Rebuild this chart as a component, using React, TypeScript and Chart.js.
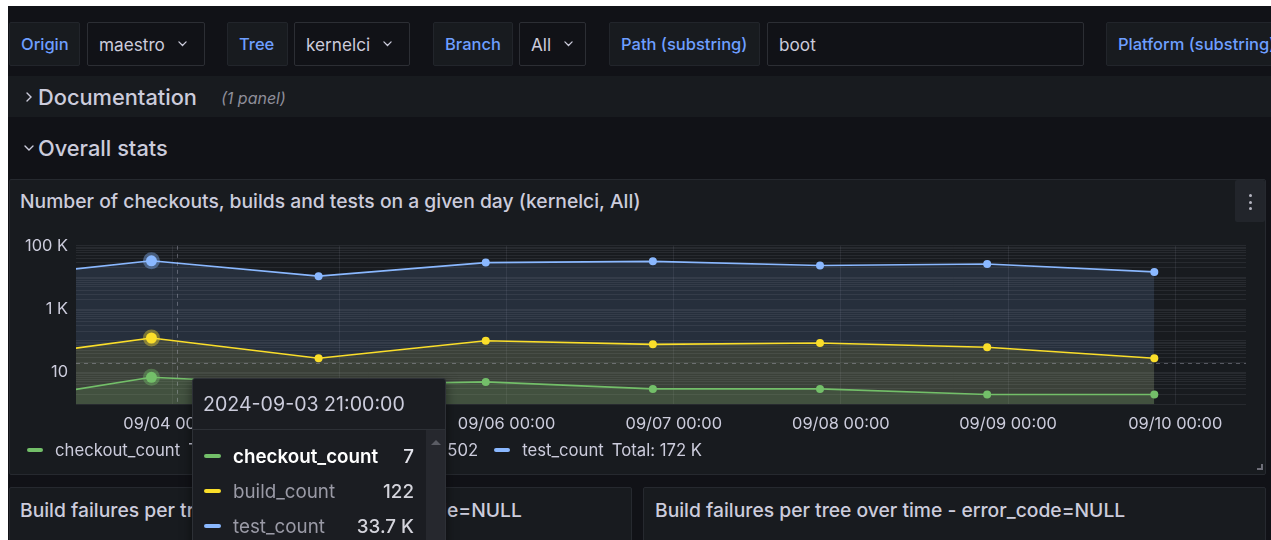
import React, { useEffect, useRef } from 'react';
import { Chart, registerables } from 'chart.js';

Chart.register(...registerables);

// ---- data ----
const timeLabels = [
  '2024-09-02 21:00:00',
  '2024-09-03 21:00:00',
  '2024-09-04 21:00:00',
  '2024-09-05 21:00:00',
  '2024-09-06 21:00:00',
  '2024-09-07 21:00:00',
  '2024-09-08 21:00:00',
  '2024-09-09 21:00:00',
];
const checkoutCount = [1, 7, 4, 5, 3, 3, 2, 2];
const buildCount = [24, 122, 28, 100, 77, 85, 62, 28];
const testCount = [9100, 33700, 11000, 29500, 32300, 23800, 26700, 15000];

const seriesNames = ['checkout_count', 'build_count', 'test_count'];
const seriesColors = ['#73bf69', '#fade2a', '#8ab8ff'];
const seriesFills = ['rgba(115,191,105,0.13)', 'rgba(250,222,42,0.10)', 'rgba(138,184,255,0.13)'];

const xTickLabels = ['09/04 00:00', '09/05 00:00', '09/06 00:00', '09/07 00:00', '09/08 00:00', '09/09 00:00', '09/10 00:00'];
const yTickValues = [10, 1000, 100000];
const yTickLabels = ['10', '1 K', '100 K'];

const rangeFrom = '2024-09-03 10:10:00';
const rangeTo = '2024-09-10 10:10:00';
const hoverTime = '2024-09-03 21:00:00';
const cursorTime = '2024-09-04 00:40:00';
const cursorValue = 19.5;

const panelTitle = 'Number of checkouts, builds and tests on a given day (kernelci, All)';

// ---- helpers ----
const toMs = (s: string) => {
  const [d, t] = s.split(' ');
  const [Y, M, D] = d.split('-').map(Number);
  const [h, m, sec] = t.split(':').map(Number);
  return Date.UTC(Y, M - 1, D, h, m, sec || 0);
};
const tickToMs = (lbl: string) => {
  const [md, hm] = lbl.split(' ');
  const [M, D] = md.split('/').map(Number);
  const [h, m] = hm.split(':').map(Number);
  return Date.UTC(2024, M - 1, D, h, m);
};
const fmt = (v: number) => {
  if (v >= 1000) {
    const k = v / 1000;
    return (k >= 100 ? Math.round(k).toString() : k.toFixed(1).replace(/\.0$/, '')) + ' K';
  }
  return String(v);
};

const times = timeLabels.map(toMs);
const xMin = toMs(rangeFrom);
const xMax = toMs(rangeTo);
const hoverIndex = timeLabels.indexOf(hoverTime);
const seriesValues = [checkoutCount, buildCount, testCount];
const totals = seriesValues.map((arr) => arr.reduce((s, v, i) => (times[i] >= xMin && times[i] <= xMax ? s + v : s), 0));

const FONT = 'Inter, "Noto Sans", "DejaVu Sans", sans-serif';
const TEXT = '#ccccdc';

const hexA = (hex: string, a: number) => {
  const n = parseInt(hex.slice(1), 16);
  return `rgba(${(n >> 16) & 255},${(n >> 8) & 255},${n & 255},${a})`;
};

const overlayPlugin = {
  id: 'overlay',
  afterDatasetsDraw(chart: any) {
    const { ctx, chartArea: a, scales } = chart;
    const px = scales.x.getPixelForValue(toMs(cursorTime));
    const py = scales.y.getPixelForValue(cursorValue);
    ctx.save();
    ctx.setLineDash([4, 4]);
    ctx.strokeStyle = 'rgba(204,204,220,0.35)';
    ctx.lineWidth = 1;
    ctx.beginPath();
    ctx.moveTo(Math.round(px) + 0.5, a.top);
    ctx.lineTo(Math.round(px) + 0.5, a.bottom);
    ctx.moveTo(a.left, Math.round(py) + 0.5);
    ctx.lineTo(a.right, Math.round(py) + 0.5);
    ctx.stroke();
    ctx.setLineDash([]);
    chart.data.datasets.forEach((ds: any, di: number) => {
      const pt = chart.getDatasetMeta(di).data[hoverIndex];
      if (!pt) return;
      ctx.beginPath();
      ctx.arc(pt.x, pt.y, 8.5, 0, Math.PI * 2);
      ctx.fillStyle = hexA(seriesColors[di], 0.4);
      ctx.fill();
      ctx.beginPath();
      ctx.arc(pt.x, pt.y, 5.5, 0, Math.PI * 2);
      ctx.fillStyle = seriesColors[di];
      ctx.fill();
    });
    ctx.restore();
  },
};

function TimeChart() {
  const ref = useRef<HTMLCanvasElement | null>(null);
  useEffect(() => {
    if (!ref.current) return;
    const chart = new Chart(ref.current, {
      type: 'line',
      data: {
        datasets: seriesValues.map((vals, si) => ({
          label: seriesNames[si],
          data: vals.map((v, i) => ({ x: times[i], y: v })),
          borderColor: seriesColors[si],
          backgroundColor: seriesFills[si],
          pointBackgroundColor: seriesColors[si],
          pointBorderWidth: 0,
          pointRadius: 4,
          borderWidth: 1.6,
          fill: 'start',
          tension: 0,
        })),
      },
      options: {
        animation: false,
        responsive: false,
        maintainAspectRatio: false,
        events: [],
        layout: { padding: { top: 3, right: 10, left: 0, bottom: 0 } },
        plugins: { legend: { display: false }, tooltip: { enabled: false } },
        scales: {
          x: {
            type: 'linear',
            min: xMin,
            max: xMax,
            afterBuildTicks: (s: any) => {
              s.ticks = xTickLabels.map((l) => ({ value: tickToMs(l) }));
            },
            afterFit: (s: any) => {
              s.height = 36;
            },
            ticks: {
              callback: (v: any) => {
                const i = xTickLabels.findIndex((l) => tickToMs(l) === v);
                return i >= 0 ? xTickLabels[i] : '';
              },
              autoSkip: false,
              maxRotation: 0,
              color: TEXT,
              padding: 10,
              font: { family: FONT, size: 16.4 },
            },
            grid: { color: 'rgba(204,204,220,0.09)', drawTicks: false },
            border: { display: false },
          },
          y: {
            type: 'logarithmic',
            min: 1,
            max: 100000,
            afterBuildTicks: (s: any) => {
              const t: any[] = [];
              for (let e = 0; e < 5; e++) for (let m = 1; m <= 9; m++) t.push({ value: m * Math.pow(10, e) });
              t.push({ value: 100000 });
              s.ticks = t;
            },
            afterFit: (s: any) => {
              s.width = 60;
            },
            ticks: {
              callback: (v: any) => {
                const i = yTickValues.findIndex((tv) => Math.abs(tv - v) < 1e-6 * tv);
                return i >= 0 ? yTickLabels[i] : '';
              },
              autoSkip: false,
              color: TEXT,
              padding: 8,
              font: { family: FONT, size: 16.4 },
            },
            grid: {
              color: 'rgba(204,204,220,0.085)',
              drawTicks: false,
            },
            border: { display: false },
          },
        },
      },
      plugins: [overlayPlugin],
    } as any);
    return () => chart.destroy();
  }, []);
  return (
    <canvas
      ref={ref}
      width={1240}
      height={212}
      style={{ position: 'absolute', left: 16, top: 228, width: 1240, height: 212 }}
    />
  );
}

const Chevron = ({ dir = 'down', color = TEXT, size = 9 }: { dir?: string; color?: string; size?: number }) =>
  dir === 'down' ? (
    <svg width={size} height={size * 0.6} viewBox="0 0 10 6" style={{ display: 'inline-block' }}>
      <path d="M1 1 L5 5 L9 1" stroke={color} strokeWidth={1.4} fill="none" strokeLinecap="round" />
    </svg>
  ) : (
    <svg width={size * 0.6} height={size} viewBox="0 0 6 10" style={{ display: 'inline-block' }}>
      <path d="M1 1 L5 5 L1 9" stroke={color} strokeWidth={1.4} fill="none" strokeLinecap="round" />
    </svg>
  );

const abs = (l: number, t: number, w: number, h: number, extra: React.CSSProperties = {}): React.CSSProperties => ({
  position: 'absolute',
  left: l,
  top: t,
  width: w,
  height: h,
  boxSizing: 'border-box',
  ...extra,
});

function VarLabel({ l, w, text }: { l: number; w: number; text: string }) {
  return (
    <div
      style={abs(l, 22, w, 44, {
        background: '#181b1f',
        border: '1px solid #22252b',
        borderRadius: 2,
        color: '#6e9fff',
        fontSize: 16.5,
        fontWeight: 500,
        display: 'flex',
        alignItems: 'center',
        paddingLeft: 11,
        whiteSpace: 'nowrap',
        overflow: 'hidden',
      })}
    >
      {text}
    </div>
  );
}

function VarValue({ l, w, text, chevron = true }: { l: number; w: number; text: string; chevron?: boolean }) {
  return (
    <div
      style={abs(l, 22, w, 44, {
        background: '#111217',
        border: '1px solid #2c2e34',
        borderRadius: 2,
        color: TEXT,
        fontSize: 17.2,
        display: 'flex',
        alignItems: 'center',
        paddingLeft: 11,
        gap: 13,
        whiteSpace: 'nowrap',
      })}
    >
      <span>{text}</span>
      {chevron && <Chevron />}
    </div>
  );
}

function LegendItem({ color, name, total }: { color: string; name: string; total: string }) {
  return (
    <div style={{ display: 'flex', alignItems: 'center', marginRight: 16 }}>
      <span style={{ width: 16, height: 4, borderRadius: 2, background: color, marginRight: 12 }} />
      <span style={{ marginRight: 8 }}>{name}</span>
      <span>Total: {total}</span>
    </div>
  );
}

export default function App() {
  return (
    <div
      style={{
        position: 'fixed',
        left: 0,
        top: 0,
        width: 1271,
        height: 540,
        overflow: 'hidden',
        background: '#ffffff',
        fontFamily: FONT,
        color: TEXT,
      }}
    >
      <div style={abs(8, 6, 1263, 534, { background: '#111217' })} />

      {/* variables row */}
      <VarLabel l={9} w={71} text="Origin" />
      <VarValue l={87} w={118} text="maestro" />
      <VarLabel l={227} w={61} text="Tree" />
      <VarValue l={294} w={116} text="kernelci" />
      <VarLabel l={433} w={80} text="Branch" />
      <VarValue l={519} w={67} text="All" />
      <VarLabel l={609} w={151} text="Path (substring)" />
      <VarValue l={767} w={317} text="boot" chevron={false} />
      <VarLabel l={1106} w={200} text="Platform (substring)" />

      {/* Documentation row */}
      <div
        style={abs(8, 76, 1263, 41, {
          background: '#181b1f',
          display: 'flex',
          alignItems: 'center',
          paddingLeft: 18,
        })}
      >
        <Chevron dir="right" size={10} />
        <span style={{ fontSize: 21.8, fontWeight: 500, marginLeft: 6 }}>Documentation</span>
        <span style={{ fontSize: 16, fontStyle: 'italic', color: '#8e8e99', marginLeft: 24, marginTop: 3 }}>(1 panel)</span>
      </div>

      {/* Overall stats row */}
      <div style={abs(8, 127, 1263, 41, { display: 'flex', alignItems: 'center', paddingLeft: 16 })}>
        <Chevron dir="down" size={10} />
        <span style={{ fontSize: 21.8, fontWeight: 500, marginLeft: 4 }}>Overall stats</span>
      </div>

      {/* main panel */}
      <div style={abs(9, 179, 1257, 296, { background: '#181b1f', border: '1px solid #26292f', borderRadius: 2 })} />
      <div style={abs(20, 189, 1100, 24, { fontSize: 19.3, fontWeight: 500, lineHeight: '24px', whiteSpace: 'nowrap' })}>
        {panelTitle}
      </div>
      <div style={abs(1235, 180, 30, 42, { background: '#22252b', borderRadius: 2 })}>
        {[15, 22, 28].map((y) => (
          <div key={y} style={abs(14, y - 1.5, 3, 3, { borderRadius: 2, background: '#b4b4c0' })} />
        ))}
      </div>

      <TimeChart />

      {/* legend */}
      <div
        style={abs(27, 438, 1200, 24, {
          display: 'flex',
          alignItems: 'center',
          fontSize: 16.7,
          whiteSpace: 'nowrap',
        })}
      >
        {seriesNames.map((n, i) => (
          <LegendItem key={n} color={seriesColors[i]} name={n} total={fmt(totals[i])} />
        ))}
      </div>

      {/* resize handle */}
      <div style={abs(1257, 464, 6, 6, { borderRight: '2px solid #6e6e78', borderBottom: '2px solid #6e6e78' })} />

      {/* lower panels */}
      <div style={abs(9, 487, 623, 80, { background: '#181b1f', border: '1px solid #26292f', borderRadius: 2 })} />
      <div style={abs(20, 498, 600, 24, { fontSize: 19.3, fontWeight: 500, lineHeight: '24px', whiteSpace: 'nowrap' })}>
        Build failures per tree over time (#) - error_code=NULL
      </div>
      <div style={abs(643, 487, 623, 80, { background: '#181b1f', border: '1px solid #26292f', borderRadius: 2 })} />
      <div style={abs(655, 498, 600, 24, { fontSize: 19.3, fontWeight: 500, lineHeight: '24px', whiteSpace: 'nowrap' })}>
        Build failures per tree over time - error_code=NULL
      </div>

      {/* tooltip */}
      <div
        style={abs(192, 378, 254, 180, {
          background: '#1b1d22',
          border: '1px solid #2d3036',
          borderRadius: 3,
          boxShadow: '0 4px 12px rgba(0,0,0,0.5)',
          overflow: 'hidden',
        })}
      >
        <div
          style={{
            height: 51,
            boxSizing: 'border-box',
            borderBottom: '1px solid #2d3036',
            padding: '0 10px',
            fontSize: 19.6,
            lineHeight: '50px',
            color: TEXT,
          }}
        >
          {timeLabels[hoverIndex]}
        </div>
        <div style={abs(233, 51, 20, 140, { background: '#26282e' })}>
          <svg width={20} height={20} style={{ position: 'absolute', left: 0, top: 2 }}>
            <path d="M5 13 L10 8 L15 13 Z" fill="#5a5c64" />
          </svg>
        </div>
        {seriesNames.map((n, i) => (
          <div
            key={n}
            style={abs(11, 62 + i * 35, 210, 30, {
              display: 'flex',
              alignItems: 'center',
              fontSize: 18.8,
            })}
          >
            <span style={{ width: 17, height: 4, borderRadius: 2, background: seriesColors[i], marginRight: 12 }} />
            <span
              style={{
                flex: 1,
                color: i === 0 ? '#ffffff' : '#9a9aa6',
                fontWeight: i === 0 ? 600 : 400,
              }}
            >
              {n}
            </span>
            <span style={{ color: i === 0 ? '#e4e4ec' : '#d4d4dc', fontWeight: 500 }}>{fmt(seriesValues[i][hoverIndex])}</span>
          </div>
        ))}
      </div>
    </div>
  );
}
